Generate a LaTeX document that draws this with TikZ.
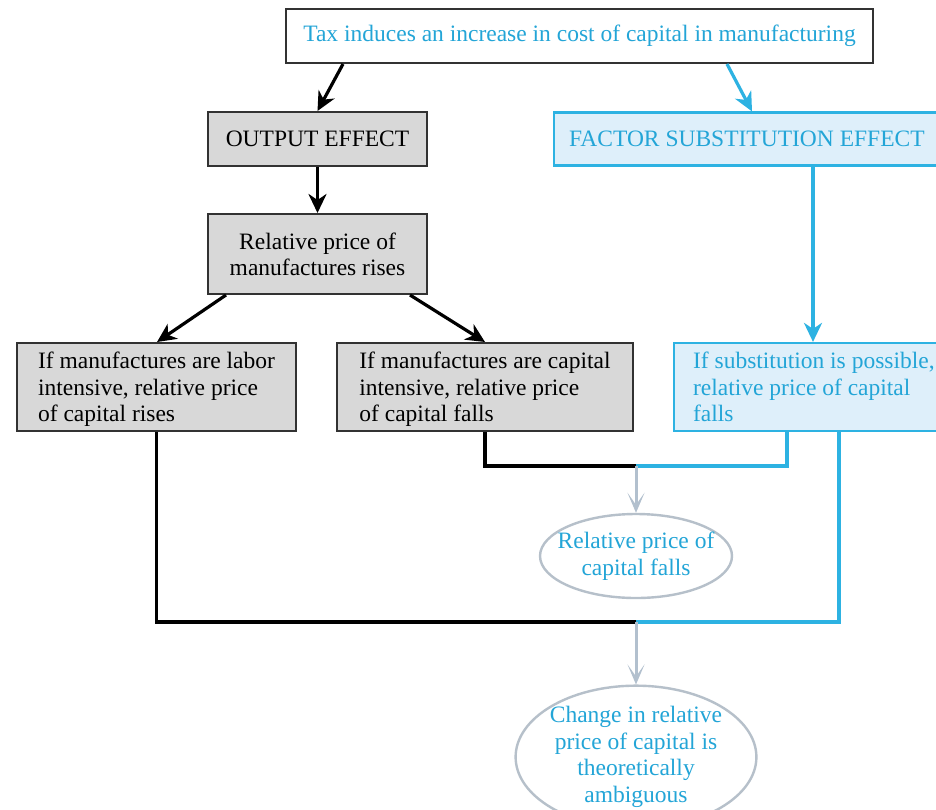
\documentclass[tikz,border=0pt]{standalone}
\usepackage{fontspec}
\setmainfont{Liberation Serif}
\usetikzlibrary{arrows.meta,shapes.geometric}
\definecolor{cyantext}{RGB}{35,165,215}
\definecolor{cyanline}{RGB}{45,178,226}
\definecolor{lightblue}{RGB}{222,239,250}
\definecolor{boxgray}{RGB}{216,216,216}
\definecolor{darkline}{RGB}{50,50,50}
\definecolor{grayarrow}{RGB}{178,192,206}
\definecolor{ellgray}{RGB}{182,192,202}
\begin{document}
\begin{tikzpicture}[x=1pt,y=-1pt,
  every node/.style={font=\fontsize{23.5}{26.5}\selectfont, inner sep=0pt},
  graybox/.style={draw=darkline, line width=2pt, fill=boxgray, text=black, text depth=0pt},
  bluebox/.style={draw=cyanline, line width=2.2pt, fill=lightblue, text=cyantext, text depth=0pt},
  ellbox/.style={ellipse, draw=ellgray, line width=2.4pt, fill=white, text=cyantext, align=center},
  blkarrow/.style={draw=black, line width=3.2pt, -{Stealth[length=19pt,width=18pt,inset=6pt]}},
  bluearrow/.style={draw=cyanline, line width=3.2pt, -{Stealth[length=19pt,width=18pt,inset=6pt]}},
  grayarr/.style={draw=grayarrow, line width=3pt, -{Stealth[length=20pt,width=17pt,inset=12pt]}},
  blkline/.style={draw=black, line width=3.2pt},
  blueline/.style={draw=cyanline, line width=3.2pt}
]
\useasboundingbox (0,0) rectangle (936,809);
\clip (0,0) rectangle (936,809);
\fill[white] (0,0) rectangle (936,809);

% nodes
\node[draw=darkline, line width=2pt, fill=white, text=cyantext,
      minimum width=587pt, minimum height=54pt] (top) at (579.5,36)
      {Tax induces an increase in cost of capital in manufacturing};
\node[graybox, minimum width=219pt, minimum height=54pt] (out) at (317.5,139) {OUTPUT EFFECT};
\node[bluebox, anchor=west, minimum height=53pt, inner xsep=15pt] (fse) at (553,139) {FACTOR SUBSTITUTION EFFECT};
\node[graybox, minimum width=219pt, minimum height=80pt, align=center] (rel) at (317.5,254)
      {Relative price of\\manufactures rises};
\node[graybox, minimum width=279pt, minimum height=88pt, align=left] (lbox) at (156.5,387)
      {If manufactures are labor\\intensive, relative price\\of capital rises};
\node[graybox, minimum width=296pt, minimum height=88pt, align=left] (mbox) at (485,387)
      {If manufactures are capital\\intensive, relative price\\of capital falls};
\node[bluebox, anchor=west, minimum height=88pt, inner xsep=19pt, align=left] (rbox) at (673,387)
      {If substitution is possible,\\relative price of capital\\falls\hspace*{60pt}};
\node[ellbox, minimum width=192pt, minimum height=84pt, inner xsep=-11pt, inner ysep=-3pt] (e1) at (636,556)
      {Relative price of\\capital falls};
\node[ellbox, minimum width=240pt, minimum height=140pt, inner xsep=-1pt] (e2) at (636,757)
      {Change in relative\\price of capital is\\theoretically\\ambiguous};

\coordinate (j1) at (636,466);
\coordinate (j2) at (636,622);

% arrows
\draw[blkarrow] ([xshift=58pt]top.south west) -- (out.north);
\draw[bluearrow] ([xshift=442pt]top.south west) -- ([xshift=199pt]fse.north west);
\draw[blkarrow] (out.south) -- (rel.north);
\draw[blkarrow] ([xshift=19pt]rel.south west) -- ([xshift=141pt]lbox.north west);
\draw[blkarrow] ([xshift=-18pt]rel.south east) -- (mbox.north);
\draw[bluearrow] ([xshift=260pt]fse.south west) -- ([xshift=140pt]rbox.north west);

% joins
\draw[blkline] (mbox.south) |- (j1);
\draw[blueline] (j1) -| ([xshift=114pt]rbox.south west);
\draw[grayarr] (j1) -- (e1.north);
\draw[blkline] (lbox.south) |- (j2);
\draw[blueline] (j2) -| ([xshift=166pt]rbox.south west);
\draw[grayarr] (j2) -- (e2.north);
\end{tikzpicture}
\end{document}
